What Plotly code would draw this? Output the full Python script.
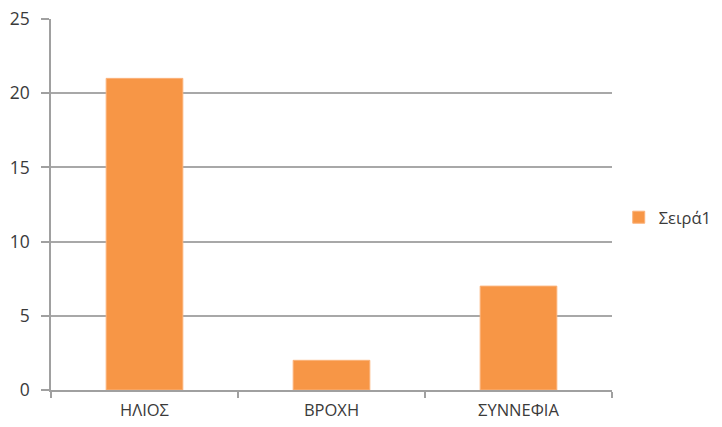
import plotly.graph_objects as go

categories = ["ΗΛΙΟΣ", "ΒΡΟΧΗ", "ΣΥΝΝΕΦΙΑ"]
values = [21, 2, 7]
series_name = "Σειρά1"
y_ticks = [0, 5, 10, 15, 20, 25]

fig = go.Figure()
fig.add_trace(go.Bar(
    x=categories, y=values, name=series_name,
    marker=dict(color="#F79646", line=dict(color="#FBB27A", width=1)),
    showlegend=True,
))

txt = "#3a3a3a"
font = dict(family="Open Sans, Liberation Sans, sans-serif", size=16, color=txt)

fig.update_layout(
    width=722, height=427,
    margin=dict(l=51, r=110, t=19, b=37, autoexpand=False),
    paper_bgcolor="white", plot_bgcolor="white",
    bargap=0.59,
    font=font,
    showlegend=True,
    legend=dict(x=1.012, y=0.465, xanchor="left", yanchor="middle",
                font=dict(size=16.5, color=txt), itemwidth=30),
    xaxis=dict(
        type="category", tickson="boundaries", ticks="outside", ticklen=6,
        tickcolor="#a0a0a0", tickwidth=1.5,
        showline=True, linecolor="#a0a0a0", linewidth=1.5,
        showgrid=False, tickfont=dict(size=16.5, color=txt),
        ticklabelstandoff=4,
    ),
    yaxis=dict(
        range=[0, 25], tickvals=y_ticks, ticks="outside", ticklen=8,
        tickcolor="#a0a0a0", tickwidth=2,
        showline=True, linecolor="#a0a0a0", linewidth=1.5,
        showgrid=True, gridcolor="#a8a8a8", gridwidth=2,
        zeroline=False, tickfont=dict(size=17.5, color=txt),
        ticklabelstandoff=8,
    ),
)

fig.write_html("out.html", config={"displayModeBar": False},
               post_script="document.body.style.margin='0';")
